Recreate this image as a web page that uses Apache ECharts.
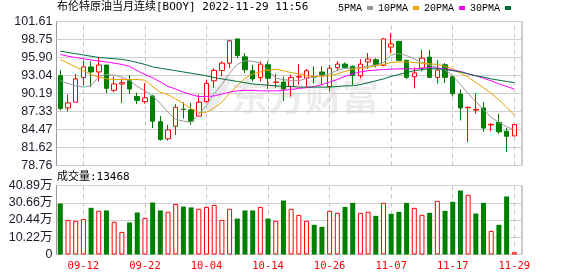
<!DOCTYPE html>
<html><head><meta charset="utf-8">
<script src="https://cdn.jsdelivr.net/npm/echarts/dist/echarts.min.js"></script>
<style>html,body{margin:0;padding:0;background:#fff}#c{width:578px;height:276px}</style>
</head><body><div id="c"></div>
<script>
const titleText = '布伦特原油当月连续[BOOY] 2022-11-29 11:56';
const volTitle = '成交量:13468';
const watermark = '东方财富';
const seriesNames = ['5PMA', '10PMA', '20PMA', '30PMA'];

const dates = ['09-07','09-08','09-09','09-12','09-13','09-14','09-15','09-16','09-19','09-20',
  '09-21','09-22','09-23','09-26','09-27','09-28','09-29','09-30','10-03','10-04',
  '10-05','10-06','10-07','10-10','10-11','10-12','10-13','10-14','10-17','10-18',
  '10-19','10-20','10-21','10-24','10-25','10-26','10-27','10-28','10-31','11-01',
  '11-02','11-03','11-04','11-07','11-08','11-09','11-10','11-11','11-14','11-15',
  '11-16','11-17','11-18','11-21','11-22','11-23','11-24','11-25','11-28','11-29'];
const labelDates = ['09-12','09-22','10-04','10-14','10-26','11-07','11-17','11-29'];

const opens  = [93.0,87.9,88.8,92.7,94.4,93.6,94.7,90.7,91.7,92.2, 89.7,88.9,89.8,85.7,83.0,85.0,87.7,87.6,86.6,88.9,
  92.2,93.85,95.0,98.85,96.0,93.8,92.7,94.75,91.95,92.0, 91.3,92.8,92.6,92.85,93.6,91.3,94.3,94.85,94.5,93.0,
  95.2,95.55,94.65,97.55,98.45,95.45,92.85,94.2,95.95,92.75, 94.75,92.85,90.1,87.93,87.55,87.9,85.2,85.6,84.2,83.45];
const closes = [87.8,88.7,92.5,94.4,93.6,94.7,91.0,91.7,91.9,90.9, 89.1,89.5,85.8,82.9,84.4,88.0,87.65,85.8,88.8,91.8,
  93.85,95.0,98.55,96.2,93.95,92.5,94.85,92.6,92.0,90.9, 92.7,92.85,93.8,92.8,93.2,94.2,94.85,94.3,93.05,94.85,
  95.65,94.75,98.85,98.05,95.45,92.75,93.45,95.8,92.75,93.9, 92.75,90.15,87.9,88.0,87.65,84.7,85.3,84.1,83.4,85.25];
const lows   = [87.5,87.35,88.8,91.4,91.2,92.1,90.2,90.4,88.7,90.1, 88.5,88.6,84.7,82.7,82.7,83.6,86.2,85.2,86.6,88.7,
  91.1,92.9,94.2,95.8,93.4,92.1,92.1,90.9,91.1,89.0, 89.7,91.6,91.2,91.8,91.6,90.5,93.8,94.1,91.5,92.6,
  94.1,94.3,94.5,96.6,95.3,92.5,91.0,93.7,92.6,91.75, 91.85,89.7,85.9,82.45,87.0,84.1,84.2,83.8,80.9,83.4];
const highs  = [93.9,90.0,93.3,95.4,95.3,96.0,94.7,92.85,92.6,93.1, 90.3,91.8,90.0,86.6,85.2,88.5,88.8,88.7,90.0,92.4,
  94.2,95.3,98.7,98.9,96.6,94.75,95.3,95.3,93.3,92.9, 93.2,94.85,94.1,94.5,94.5,94.75,95.3,95.1,94.65,95.6,
  96.6,95.8,99.0,99.75,98.55,95.5,94.3,97.1,97.1,95.5, 95.0,93.0,90.85,88.1,90.25,88.8,85.45,87.0,84.7,85.3];

const volumes = [30.2,20.5,19.95,21.1,27.65,25.9,26.1,19.4,13.4,19.0, 24.9,21.7,30.8,26.1,25.3,30.0,28.4,27.9,27.1,28.2,
  29.4,20.5,27.1,21.3,26.1,26.1,28.2,21.3,19.95,32.0, 27.1,23.5,19.95,17.6,16.4,25.9,24.7,28.2,30.6,24.7,
  25.3,22.9,30.6,24.1,25.3,30.6,27.65,23.5,24.7,31.8, 25.9,31.2,37.9,35.4,24.3,30.6,14.0,17.6,34.4,1.3468];
const volDir = [-1,1,1,1,-1,1,-1,1,1,-1, -1,1,-1,-1,1,1,-1,-1,1,1, 1,1,1,-1,-1,-1,1,-1,1,-1,
  1,1,1,-1,-1,1,1,-1,-1,1, 1,-1,1,-1,-1,-1,1,1,-1,1, -1,-1,-1,1,-1,-1,1,-1,-1,1];

const ma5  = [92.2,91.8,91.4,91.2,91.4,92.9,93.2,93.1,92.8,92.3, 91.3,90.6,89.8,88.6,87.2,86.1,85.8,85.6,86.9,88.3,
  90.2,91.6,93.4,94.8,95.4,95.3,95.0,93.9,92.6,92.4, 92.2,92.2,92.6,92.8,93.0,93.3,93.9,94.2,94.2,94.3,
  94.5,94.7,95.1,96.3,96.5,96.2,95.7,95.1,94.7,94.3, 93.9,93.0,91.6,90.2,88.9,87.6,86.4,85.6,84.9,84.4];
const ma10 = [95.6,95.0,94.4,93.8,93.2,92.8,92.5,92.4,92.4,92.4, 92.4,92.3,91.3,90.4,90.0,89.3,88.6,87.8,87.2,87.2,
  87.9,88.8,90.2,91.4,92.6,93.3,93.6,93.9,94.0,93.8, 93.5,93.3,93.0,92.9,92.9,93.0,93.3,93.7,94.0,94.2,
  94.3,94.6,94.8,95.1,95.2,95.2,95.1,95.0,94.9,94.8, 94.5,94.1,93.4,92.8,91.9,91.1,90.2,89.2,88.0,86.8];
const ma20 = [96.4,96.1,95.9,95.7,95.5,95.35,95.2,95.0,94.8,94.5, 93.8,93.2,92.7,92.0,91.3,90.9,90.4,90.0,89.7,89.7,
  89.8,90.1,90.4,90.6,90.7,90.7,90.6,90.6,90.6,90.7, 90.8,91.0,91.1,91.3,91.6,92.0,92.4,92.9,93.3,93.6,
  93.8,93.9,94.0,94.05,94.1,94.1,94.1,94.2,94.3,94.2, 94.1,93.9,93.7,93.3,93.0,92.6,92.2,91.7,91.3,90.9];
const ma30 = [96.9,96.7,96.5,96.3,96.1,95.9,95.8,95.7,95.6,95.4, 95.1,94.8,94.4,94.2,94.0,93.8,93.6,93.4,93.2,93.0,
  92.7,92.5,92.3,92.1,91.9,91.7,91.6,91.5,91.4,91.3, 91.3,91.2,91.2,91.2,91.2,91.2,91.3,91.4,91.4,91.6,
  91.9,92.2,92.5,92.9,93.2,93.5,93.8,94.0,94.1,94.1, 94.0,93.8,93.6,93.3,93.0,92.8,92.5,92.3,92.1,91.9];

const priceTicks = ['78.76','81.62','84.47','87.33','90.19','93.04','95.90','98.75','101.61'];
const volTicks = ['0','10.22万','20.44万','30.66万','40.89万'];

// ---- build ----
const RED = '#ff0000', GREEN = '#008000';
const maColors = ['#999999', '#f0a000', '#ff00ff', '#00703a'];
const maData = [ma5, ma10, ma20, ma30];
const priceMin = parseFloat(priceTicks[0]);
const priceMax = parseFloat(priceTicks[priceTicks.length - 1]);
const volMax = parseFloat(volTicks[volTicks.length - 1]);
const kData = dates.map((d, i) => [opens[i], closes[i], lows[i], highs[i]]);
const volData = volumes.map((v, i) => ({
  value: v,
  itemStyle: volDir[i] > 0 ? { color: '#ffffff', borderColor: RED, borderWidth: 1 } : { color: GREEN, borderColor: GREEN, borderWidth: 0 }
}));
const isLabelDate = (idx, val) => labelDates.indexOf(val !== undefined ? val : dates[idx]) >= 0;
const monoFont = "'DejaVu Sans Mono', 'Noto Sans CJK SC', monospace";
const wmFill = 'rgba(0,0,0,0.075)';

const chart = echarts.init(document.getElementById('c'), null, { renderer: 'canvas' });
chart.setOption({
  animation: false,
  backgroundColor: '#ffffff',
  title: [
    { text: titleText, left: 57, top: 2, padding: 0,
      textStyle: { fontSize: 11, fontWeight: 'normal', color: '#000', fontFamily: monoFont } },
    { text: volTitle, left: 57, top: 172, padding: 0,
      textStyle: { fontSize: 11, fontWeight: 'normal', color: '#000', fontFamily: monoFont } }
  ],
  legend: {
    data: seriesNames, left: 338, top: 3, padding: 0, align: 'right',
    icon: 'rect', itemWidth: 6, itemHeight: 4, itemGap: 5,
    textStyle: { fontSize: 10, color: '#000', fontFamily: "'Liberation Mono', monospace" }
  },
  graphic: [
    { type: 'text', left: 231, top: 78, z: -10, silent: true,
      style: { text: watermark, font: 'bold 37px "Noto Sans CJK SC"', fill: wmFill } },
    { type: 'polygon', z: -10, silent: true,
      shape: { points: [[224, 75], [234, 78], [213, 112], [203, 109]] }, style: { fill: wmFill } },
    { type: 'polygon', z: -10, silent: true,
      shape: { points: [[210, 84], [217, 86], [204, 106], [198, 103]] }, style: { fill: wmFill } }
  ],
  grid: [
    { left: 56.5, top: 21.5, width: 465.5, height: 144, show: true, borderColor: '#999', borderWidth: 1, backgroundColor: 'transparent', containLabel: false },
    { left: 56.45, top: 21.5, width: 461.7, height: 144, containLabel: false },
    { left: 56.5, top: 185.5, width: 465.5, height: 69, show: true, borderColor: '#999', borderWidth: 1, backgroundColor: 'transparent', containLabel: false },
    { left: 56.45, top: 185.5, width: 461.7, height: 69, containLabel: false }
  ],
  xAxis: [
    { type: 'value', gridIndex: 0, min: 0, max: 1, show: false },
    { type: 'category', gridIndex: 1, data: dates, boundaryGap: true,
      axisLine: { show: false }, axisLabel: { show: false }, splitLine: { show: false },
      axisTick: { show: true, inside: true, length: 144, alignWithLabel: true, interval: isLabelDate,
        lineStyle: { color: '#c4c4c4', type: [4, 4], width: 1 } } },
    { type: 'value', gridIndex: 2, min: 0, max: 1, show: false },
    { type: 'category', gridIndex: 3, data: dates, boundaryGap: true,
      axisLine: { show: false }, splitLine: { show: false },
      axisLabel: { show: true, interval: isLabelDate, color: RED, fontSize: 10.5, fontFamily: monoFont, margin: 7 },
      axisTick: { show: true, inside: true, length: 69, alignWithLabel: true, interval: isLabelDate,
        lineStyle: { color: '#c4c4c4', type: [4, 4], width: 1 } } }
  ],
  yAxis: [
    { type: 'value', gridIndex: 0, min: 0, max: priceTicks.length - 1, interval: 1,
      axisLine: { show: false }, axisTick: { show: false },
      axisLabel: { formatter: v => priceTicks[Math.round(v)], color: '#1a1a2a', fontSize: 12.5, fontFamily: "'Liberation Sans', Arial", margin: 4 },
      splitLine: { show: true, lineStyle: { color: '#cfcfcf', width: 1 } } },
    { type: 'value', gridIndex: 1, min: priceMin, max: priceMax, show: false, splitLine: { show: false } },
    { type: 'value', gridIndex: 2, min: 0, max: volTicks.length - 1, interval: 1,
      axisLine: { show: false }, axisTick: { show: false },
      axisLabel: { formatter: v => volTicks[Math.round(v)], color: '#1a1a2a', fontSize: 12.5, fontFamily: "'Liberation Sans', Arial, 'Noto Sans CJK SC'", margin: 4 },
      splitLine: { show: true, lineStyle: { color: '#cfcfcf', width: 1 } } },
    { type: 'value', gridIndex: 3, min: 0, max: volMax, show: false, splitLine: { show: false } }
  ],
  series: [
    { type: 'candlestick', name: 'K', xAxisIndex: 1, yAxisIndex: 1, data: kData, barWidth: 5, z: 2,
      itemStyle: { color: '#ffffff', color0: GREEN, borderColor: RED, borderColor0: GREEN, borderWidth: 1 } },
    ...maData.map((d, k) => ({
      type: 'line', name: seriesNames[k], xAxisIndex: 1, yAxisIndex: 1, data: d, z: 3,
      symbol: 'none', smooth: false, color: maColors[k],
      itemStyle: { color: maColors[k] },
      lineStyle: { color: maColors[k], width: 1 }
    })),
    { type: 'bar', name: 'VOL', xAxisIndex: 3, yAxisIndex: 3, data: volData, barWidth: 5, z: 2 }
  ]
});
</script>
</body></html>
